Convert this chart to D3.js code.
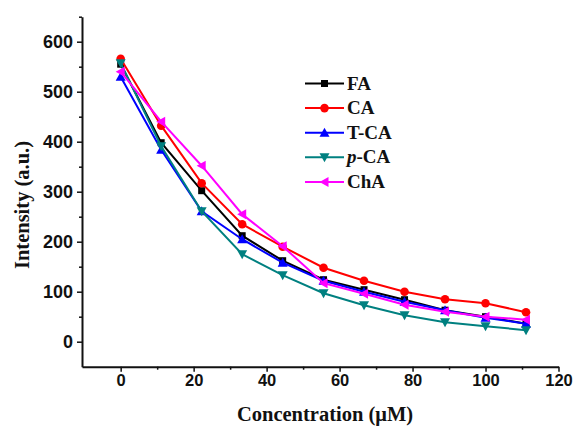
<!DOCTYPE html>
<html>
<head>
<meta charset="utf-8">
<script src="https://cdn.jsdelivr.net/npm/d3@7"></script>
<style>
  body { margin: 0; background: #fff; }
  svg { display: block; }
</style>
</head>
<body>
<div id="chart"></div>
<script>
// concentration (uM)
var conc = [0, 11.1, 22.2, 33.3, 44.4, 55.6, 66.7, 77.8, 88.9, 100, 111.1];

// intensities
var FA   = [555, 398, 302, 212, 162, 124, 104, 84, 63, 50, 36];
var CA   = [566, 432, 317, 235, 190, 148, 122, 100, 85, 77, 59];
var TCA  = [530, 384, 261, 205, 158, 122, 100, 80, 63, 48, 36];
var pCA  = [557, 391, 261, 175, 133, 97, 73, 53, 39, 31, 23];
var ChA  = [540, 440, 352, 255, 191, 117, 96, 74, 60, 50, 44];

var seriesNames = ["FA", "CA", "T-CA", "p-CA", "ChA"];
var xTicks = [0, 20, 40, 60, 80, 100, 120];
var xMinor = [10, 30, 50, 70, 90, 110];
var yTicks = [0, 100, 200, 300, 400, 500, 600];
var yMinor = [50, 150, 250, 350, 450, 550, 650];

var width = 576, height = 427;
var margin = {left: 82, right: 18, top: 17, bottom: 60};

var x = d3.scaleLinear().domain([-10.6, 120]).range([margin.left, 558.5]);
var y = d3.scaleLinear().domain([-50, 650]).range([366.7, 16.7]);

var svg = d3.select("#chart").append("svg")
    .attr("width", width)
    .attr("height", height);

var series = [
    {name: seriesNames[0], values: FA, color: "#000000", shape: "square"},
    {name: seriesNames[1], values: CA, color: "#ff0000", shape: "circle"},
    {name: seriesNames[2], values: TCA, color: "#0000ff", shape: "up"},
    {name: seriesNames[3], values: pCA, color: "#008080", shape: "down"},
    {name: seriesNames[4], values: ChA, color: "#ff00ff", shape: "left"}
];

function marker(g, shape, color) {
    if (shape === "square") {
        g.append("rect").attr("x", -3.5).attr("y", -3.5).attr("width", 7).attr("height", 7).attr("fill", color);
    } else if (shape === "circle") {
        g.append("circle").attr("r", 4.3).attr("fill", color);
    } else if (shape === "up") {
        g.append("path").attr("d", "M0,-5L5,4L-5,4Z").attr("fill", color);
    } else if (shape === "down") {
        g.append("path").attr("d", "M0,5L5,-4L-5,-4Z").attr("fill", color);
    } else {
        g.append("path").attr("d", "M-5,0L4,-5L4,5Z").attr("fill", color);
    }
}

var line = d3.line()
    .x(function (d, i) { return x(conc[i]); })
    .y(function (d) { return y(d); });

series.forEach(function (s) {
    svg.append("path")
        .attr("d", line(s.values))
        .attr("fill", "none")
        .attr("stroke", s.color)
        .attr("stroke-width", 2);
    s.values.forEach(function (v, i) {
        var g = svg.append("g").attr("transform", "translate(" + x(conc[i]) + "," + y(v) + ")");
        marker(g, s.shape, s.color);
    });
});

// axes
var xAxis = svg.append("g")
    .attr("class", "xaxis")
    .attr("transform", "translate(0," + y(-50) + ")")
    .call(d3.axisBottom(x).tickValues(xTicks).tickSize(5).tickSizeOuter(0).tickPadding(3));
svg.append("g")
    .attr("transform", "translate(0," + y(-50) + ")")
    .call(d3.axisBottom(x).tickValues(xMinor).tickSize(3).tickSizeOuter(0).tickFormat(""))
    .select(".domain").remove();

var yAxis = svg.append("g")
    .attr("class", "yaxis")
    .attr("transform", "translate(" + margin.left + ",0)")
    .call(d3.axisLeft(y).tickValues(yTicks).tickSize(5).tickSizeOuter(0).tickPadding(4));
svg.append("g")
    .attr("transform", "translate(" + margin.left + ",0)")
    .call(d3.axisLeft(y).tickValues(yMinor).tickSize(3).tickSizeOuter(0).tickFormat(""))
    .select(".domain").remove();

svg.selectAll(".domain").attr("stroke", "#111").attr("stroke-width", 2);
svg.selectAll(".tick line").attr("stroke", "#111").attr("stroke-width", 1.5);
svg.selectAll(".tick text")
    .attr("fill", "#111")
    .style("font-family", "'Liberation Sans', Arial, sans-serif")
    .style("font-weight", "bold");
svg.selectAll(".xaxis .tick text").style("font-size", "16.5px");
svg.selectAll(".yaxis .tick text").style("font-size", "18px");

// axis titles
svg.append("text")
    .attr("x", 325)
    .attr("y", 421)
    .attr("text-anchor", "middle")
    .style("font-family", "'Liberation Serif', 'Times New Roman', serif")
    .style("font-weight", "bold")
    .style("font-size", "20.5px")
    .attr("fill", "#111")
    .text("Concentration (\u03bcM)");

svg.append("text")
    .attr("transform", "translate(29,205) rotate(-90)")
    .attr("text-anchor", "middle")
    .style("font-family", "'Liberation Serif', 'Times New Roman', serif")
    .style("font-weight", "bold")
    .style("font-size", "20.5px")
    .attr("fill", "#111")
    .text("Intensity (a.u.)");

// legend
var legend = svg.append("g");
series.forEach(function (s, i) {
    var ly = 83.5 + i * 24.6;
    legend.append("line")
        .attr("x1", 305).attr("x2", 344)
        .attr("y1", ly).attr("y2", ly)
        .attr("stroke", s.color).attr("stroke-width", 2);
    var g = legend.append("g").attr("transform", "translate(324.5," + ly + ")");
    marker(g, s.shape, s.color);
    var t = legend.append("text")
        .attr("x", 347)
        .attr("y", ly + 6)
        .style("font-family", "'Liberation Serif', 'Times New Roman', serif")
        .style("font-weight", "bold")
        .style("font-size", "19px")
        .attr("fill", "#111");
    if (s.name === "p-CA") {
        t.append("tspan").style("font-style", "italic").text("p");
        t.append("tspan").text("-CA");
    } else {
        t.text(s.name);
    }
});
</script>
</body>
</html>
